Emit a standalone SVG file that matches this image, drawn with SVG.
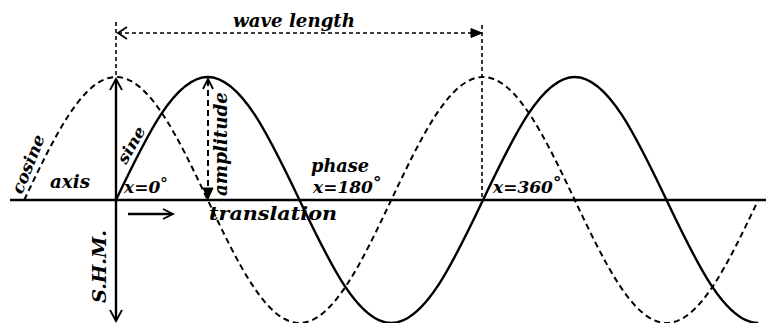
<svg xmlns="http://www.w3.org/2000/svg" width="766" height="323" viewBox="0 0 766 323">
<style>
.t{font-family:"DejaVu Serif","Liberation Serif",serif;font-weight:bold;font-style:italic;fill:#000}
.solid{fill:none;stroke:#000;stroke-width:2.4}
.dash{fill:none;stroke:#000;stroke-width:2;stroke-dasharray:6 4}
.fine{fill:none;stroke:#000;stroke-width:1.6;stroke-dasharray:4 3}
.head{fill:none;stroke:#000;stroke-width:1.8}
.fhead{fill:#000;stroke:#000;stroke-width:1}
</style>
<rect width="766" height="323" fill="#fff"/>
<g id="axis-line">
<line class="solid" x1="10" y1="200" x2="766" y2="200"/>
</g>
<g id="sine-wave">
<path class="solid" d="M116,200 C145.9,137 174.6,77 207.75,77 C240.9,77 269.6,137 299.5,200 C329.4,263 358.1,323 391.25,323 C424.4,323 453.1,263 483,200 C512.9,137 541.6,77 574.75,77 C607.9,77 636.6,137 666.5,200 C696.4,263 725.1,323 758.25,323"/>
</g>
<g id="cosine-wave">
<path class="dash" d="M24.25,200 C54.15,137 82.85,77 116,77 C149.15,77 177.85,137 207.75,200 C237.65,263 266.35,323 299.5,323 C332.65,323 361.35,263 391.25,200 C421.15,137 449.85,77 483,77 C516.15,77 544.85,137 574.75,200 C604.65,263 633.35,323 666.5,323 C699.65,323 728.35,263 758.25,200"/>
</g>
<g id="connectors">
<line class="fine" x1="116" y1="22" x2="116" y2="77"/>
<line class="solid" x1="116" y1="79" x2="116" y2="321"/>
<path class="head" d="M110,90 L116,79 L122,90"/>
<path class="head" d="M110,310 L116,321 L122,310"/>
<line class="fine" x1="482" y1="25" x2="482" y2="200"/>
<line class="fine" x1="118" y1="33" x2="474" y2="33"/>
<path class="head" d="M127,27 L118,33 L127,39"/>
<path class="fhead" d="M471,28.5 L482,33 L471,37.5 Z"/>
<line class="dash" x1="208" y1="80" x2="208" y2="190"/>
<path class="head" d="M203,89 L208,79 L213,89"/>
<path class="fhead" d="M203,188 L208,199 L213,188 Z"/>
<line class="solid" x1="128" y1="214" x2="172" y2="214"/>
<path class="head" d="M163,209 L173,214 L163,219"/>
</g>
<g id="labels">
<text class="t" x="233" y="27" font-size="19" textLength="122" lengthAdjust="spacingAndGlyphs">wave length</text>
<text class="t" font-size="17" textLength="62" lengthAdjust="spacingAndGlyphs" transform="translate(22,195) rotate(-68)">cosine</text>
<text class="t" font-size="16" textLength="40" lengthAdjust="spacingAndGlyphs" transform="translate(126,165) rotate(-60)">sine</text>
<text class="t" font-size="18" textLength="104" lengthAdjust="spacingAndGlyphs" transform="translate(227,196) rotate(-90)">amplitude</text>
<text class="t" font-size="19" textLength="73" lengthAdjust="spacingAndGlyphs" transform="translate(106,303) rotate(-90)">S.H.M.</text>
<text class="t" x="50" y="188" font-size="18" textLength="40" lengthAdjust="spacingAndGlyphs">axis</text>
<text class="t" x="124" y="193" font-size="17">x=0<tspan font-size="15" dy="-4">°</tspan></text>
<text class="t" x="311" y="172" font-size="19" textLength="58" lengthAdjust="spacingAndGlyphs">phase</text>
<text class="t" x="313" y="193" font-size="17">x=180<tspan dy="-5">°</tspan></text>
<text class="t" x="209" y="220" font-size="19" textLength="128" lengthAdjust="spacingAndGlyphs">translation</text>
<text class="t" x="493" y="193" font-size="17">x=360<tspan dy="-5">°</tspan></text>
</g>
</svg>
